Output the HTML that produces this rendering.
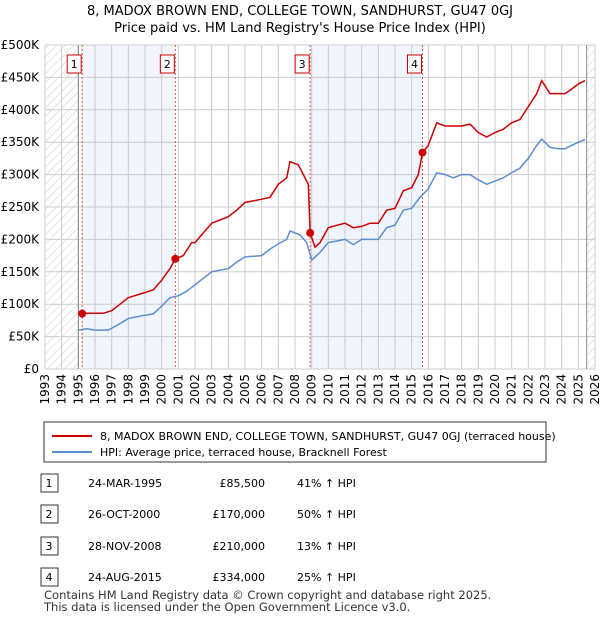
<!DOCTYPE html>
<html><head><meta charset="utf-8"><style>
body{margin:0;background:#fff;font-family:"Liberation Sans","DejaVu Sans",sans-serif;}
svg text{font-family:"DejaVu Sans","Liberation Sans",sans-serif;}
</style></head><body>
<svg width="600" height="620" xmlns="http://www.w3.org/2000/svg">
<defs><pattern id="hatch" width="6" height="6" patternUnits="userSpaceOnUse" patternTransform="rotate(45)"><line x1="0" y1="0" x2="0" y2="6" stroke="#ccc" stroke-width="1"/></pattern></defs>
<text x="300" y="15" text-anchor="middle" font-size="13">8, MADOX BROWN END, COLLEGE TOWN, SANDHURST, GU47 0GJ</text>
<text x="300" y="32" text-anchor="middle" font-size="13">Price paid vs. HM Land Registry's House Price Index (HPI)</text>
<g id="plot"></g>
<g>
<rect x="44" y="422" width="502" height="40" fill="#fff" stroke="#333"/>
<line x1="52" y1="436" x2="92" y2="436" stroke="#cc0000" stroke-width="2"/>
<text x="100" y="440" font-size="11">8, MADOX BROWN END, COLLEGE TOWN, SANDHURST, GU47 0GJ (terraced house)</text>
<line x1="52" y1="452" x2="92" y2="452" stroke="#5b8fd4" stroke-width="2"/>
<text x="100" y="456" font-size="11">HPI: Average price, terraced house, Bracknell Forest</text>
</g>
<g id="table" font-size="11"></g>
<text x="44" y="599" font-size="11.5" fill="#333">Contains HM Land Registry data © Crown copyright and database right 2025.</text>
<text x="44" y="611" font-size="11.5" fill="#333">This data is licensed under the Open Government Licence v3.0.</text>
</svg>
<script>
const yTicks=[0,50,100,150,200,250,300,350,400,450,500];
const yLabels=["£0","£50K","£100K","£150K","£200K","£250K","£300K","£350K","£400K","£450K","£500K"];
const xYears=[1993,1994,1995,1996,1997,1998,1999,2000,2001,2002,2003,2004,2005,2006,2007,2008,2009,2010,2011,2012,2013,2014,2015,2016,2017,2018,2019,2020,2021,2022,2023,2024,2025,2026];
const saleDates=[1995.23,2000.82,2008.91,2015.65];
const salePrices=[85.5,170,210,334];
const saleLabels=["1","2","3","4"];
const saleDateText=["24-MAR-1995","26-OCT-2000","28-NOV-2008","24-AUG-2015"];
const salePriceText=["£85,500","£170,000","£210,000","£334,000"];
const saleHpiText=["41% ↑ HPI","50% ↑ HPI","13% ↑ HPI","25% ↑ HPI"];
const hpiT=[1995.0,1995.5,1996,1996.8,1997.5,1998,1999,1999.5,2000,2000.5,2001,2001.5,2002,2002.5,2003,2004,2004.5,2005,2006,2006.5,2007,2007.5,2007.7,2008.3,2008.7,2009.0,2009.5,2010,2011,2011.5,2012,2012.5,2013,2013.5,2014,2014.5,2015,2015.5,2016,2016.5,2017,2017.5,2018,2018.5,2019,2019.5,2020,2020.5,2021,2021.5,2022,2022.5,2022.8,2023.3,2023.8,2024.2,2024.6,2025,2025.4];
const hpiV=[60,62,60,60,70,78,83,85,97,110,113,120,130,140,150,155,165,173,175,185,193,200,213,207,195,168,180,195,200,192,200,200,200,218,222,245,248,265,278,303,300,295,300,300,292,285,290,295,303,310,325,345,355,342,340,340,345,350,354];
const priceT=[1995.23,1995.6,1996.5,1997,1997.5,1998,1999,1999.5,2000,2000.5,2000.82,2001.3,2001.8,2002,2002.5,2003,2003.5,2004,2004.5,2005,2006,2006.5,2007,2007.5,2007.7,2008.2,2008.7,2008.8,2008.91,2009.2,2009.5,2010,2011,2011.5,2012,2012.5,2013,2013.5,2014,2014.5,2015,2015.4,2015.65,2016,2016.5,2017,2017.5,2018,2018.5,2019,2019.5,2020,2020.5,2021,2021.5,2022,2022.5,2022.8,2023.3,2023.8,2024.2,2024.6,2025,2025.4];
const priceV=[85.5,86,86,90,100,110,118,122,137,155,170,175,195,195,210,225,230,235,245,257,262,265,285,295,320,315,290,285,210,188,195,218,225,218,220,225,225,245,248,275,280,300,334,345,380,375,375,375,378,365,358,365,370,380,385,405,425,445,425,425,425,432,440,445];
const X0=45,X1=595,Y0=369,Y1=45;
const xs=t=>X0+(t-1993)/(2026-1993)*(X1-X0);
const ys=v=>Y0-v/500*(Y0-Y1);
const NS="http://www.w3.org/2000/svg";
function mk(tag,at,parent){const e=document.createElementNS(NS,tag);for(const k in at)e.setAttribute(k,at[k]);parent.appendChild(e);return e;}
const plot=document.getElementById('plot');
let h1=mk('rect',{x:X0,y:Y1,width:xs(1995)-X0,height:Y0-Y1,fill:'url(#hatch)'},plot);


let h2=mk('rect',{x:xs(2025.5),y:Y1,width:X1-xs(2025.5),height:Y0-Y1,fill:'url(#hatch)'},plot);


[[0,1],[2,3]].forEach(p=>{let b=mk('rect',{x:xs(saleDates[p[0]]),y:Y1,width:xs(saleDates[p[1]])-xs(saleDates[p[0]]),height:Y0-Y1,fill:'#eef3fc',opacity:0.8},plot);

});
xYears.forEach(y=>{let l=mk('line',{x1:xs(y),x2:xs(y),y1:Y1,y2:Y0,stroke:'#ccc','stroke-width':1},plot);


let t=mk('text',{x:0,y:0,'font-size':12,'text-anchor':'end',transform:`translate(${xs(y)+4},374) rotate(-90)`},plot);t.textContent=y;

});
yTicks.forEach((v,i)=>{let l=mk('line',{x1:X0,x2:X1,y1:ys(v),y2:ys(v),stroke:'#ccc','stroke-width':1},plot);


let t=mk('text',{x:39,y:ys(v)+4,'font-size':12,'text-anchor':'end'},plot);t.textContent=yLabels[i];

});
let ax=mk('line',{x1:xs(1995),x2:xs(1995),y1:Y1,y2:Y0,stroke:'#888'},plot);


let ax2=mk('line',{x1:xs(2025.5),x2:xs(2025.5),y1:Y1,y2:Y0,stroke:'#888'},plot);


saleDates.forEach((d,i)=>{let l=mk('line',{x1:xs(d),x2:xs(d),y1:Y1,y2:Y0,stroke:'#e05050','stroke-dasharray':'2,2'},plot);


let r=mk('rect',{x:xs(d)-15,y:55,width:14,height:18,fill:'#fff',stroke:'#cc0000'},plot);


let t=mk('text',{x:xs(d)-8,y:68,'font-size':11,'text-anchor':'middle'},plot);t.textContent=saleLabels[i];

});
const pts=(T,V)=>T.map((t,i)=>xs(t).toFixed(1)+','+ys(V[i]).toFixed(1)).join(' ');
let hp=mk('polyline',{points:pts(hpiT,hpiV),fill:'none',stroke:'#5b8fd4','stroke-width':1.5},plot);


let pp=mk('polyline',{points:pts(priceT,priceV),fill:'none',stroke:'#cc0000','stroke-width':1.5},plot);


saleDates.forEach((d,i)=>{let c=mk('circle',{cx:xs(d),cy:ys(salePrices[i]),r:4,fill:'#cc0000'},plot);

});
const tb=document.getElementById('table');
const rowY=[483,514,546,577];
rowY.forEach((y,i)=>{let r=mk('rect',{x:41,y:y-9,width:17,height:18,fill:'#fff',stroke:'#333'},tb);


const cols=[[49,saleLabels[i],'middle'],[88,saleDateText[i],'start'],[265,salePriceText[i],'end'],[297,saleHpiText[i],'start']];
cols.forEach(c=>{let t=mk('text',{x:c[0],y:y+4,'text-anchor':c[2]},tb);t.textContent=c[1];

});});
</script>
</body></html>
